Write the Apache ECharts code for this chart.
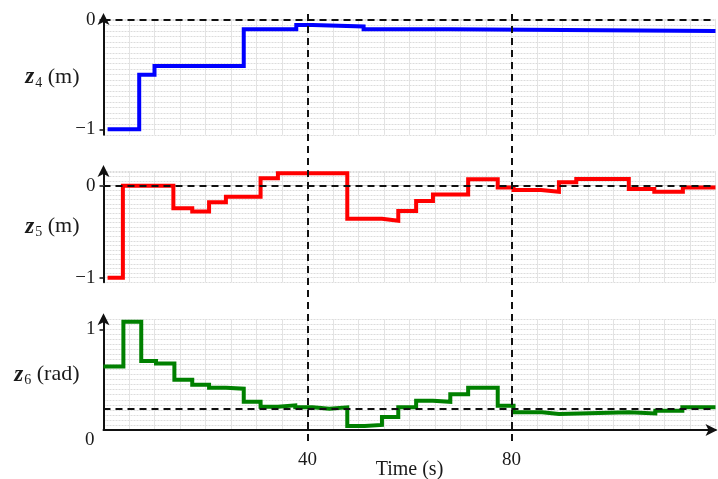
<!DOCTYPE html>
<html>
<head>
<meta charset="utf-8">
<style>
  html, body { margin: 0; padding: 0; background: #fff; }
  #chart { width: 718px; height: 479px; }
</style>
<script src="https://cdn.jsdelivr.net/npm/echarts@6/dist/echarts.min.js"></script>
</head>
<body>
<div id="chart"></div>
<script>
// Step responses of the three states over time (s)
const timeZ4 = [0.8, 7, 10, 27.5, 37.8, 41, 51, 68, 120];
const z4 = [-1, -0.50, -0.42, -0.085, -0.046, -0.06, -0.085, -0.10, -0.10];

const timeZ5 = [0.8, 3.8, 13.7, 17.4, 20.7, 24, 30.8, 34.2, 47.8, 54.6, 57.8, 61.3, 64.6, 71.5, 77.3, 80.4, 85.8, 89.3, 92.7, 103, 108, 113.6, 120];
const z5 = [-1, 0, -0.245, -0.28, -0.18, -0.12, 0.08, 0.135, -0.36, -0.38, -0.275, -0.165, -0.095, 0.07, -0.02, -0.047, -0.065, 0.037, 0.073, -0.036, -0.065, -0.02, -0.02];

const timeZ6 = [0, 3.9, 7.4, 10.3, 13.9, 17.4, 20.7, 24, 27.5, 30.8, 34.2, 37.6, 41, 44.3, 47.8, 51.2, 54.6, 57.8, 61.3, 64.6, 68, 71.5, 77.3, 80.4, 86, 89.3, 103, 108.2, 113.5, 120];
const z6 = [0.63, 1.075, 0.685, 0.66, 0.50, 0.45, 0.42, 0.41, 0.28, 0.23, 0.245, 0.225, 0.21, 0.225, 0.04, 0.05, 0.13, 0.225, 0.29, 0.28, 0.355, 0.42, 0.24, 0.175, 0.16, 0.175, 0.165, 0.19, 0.225, 0.225];

// Reference levels and marked instants
const refZ4 = 0;
const refZ5 = 0;
const refZ6 = 0.215;
const markTimes = [40, 80];

// Tick labels
const xTickValues = [40, 80];
const yTicksZ4 = [-1, 0];
const yTicksZ5 = [-1, 0];
const yTicksZ6 = [1];
const originTick = [0];

const FONT = 'Liberation Serif';
const TEXT = '#1a1a1a';
const X_MIN = 0, X_MAX = 120;

const panels = [
  { top: 18.9,  height: 115.9, min: -1.05, max: 0.01, color: '#0000ff', time: timeZ4, vals: z4, ref: refZ4, ticks: yTicksZ4, sub: '4', unit: ' (m)' },
  { top: 171,   height: 111.3, min: -1.05, max: 0.16, color: '#ff0000', time: timeZ5, vals: z5, ref: refZ5, ticks: yTicksZ5, sub: '5', unit: ' (m)' },
  { top: 319.2, height: 110.8, min: 0,     max: 1.1,  color: '#008000', time: timeZ6, vals: z6, ref: refZ6, ticks: yTicksZ6, sub: '6', unit: ' (rad)' }
];

const LEFT = 103.5, RIGHT = 2.5;
const dashed = { color: '#111', width: 2, type: [7, 5] };

function fmtNum(v) {
  const r = Math.round(v * 1000) / 1000;
  return r < 0 ? '\u2212' + Math.abs(r) : String(r);
}

const nameRich = {
  z: { fontFamily: FONT, fontSize: 23, fontStyle: 'italic', fontWeight: 'bold', color: TEXT, lineHeight: 26, verticalAlign: 'middle' },
  s: { fontFamily: FONT, fontSize: 14, color: TEXT, lineHeight: 26, verticalAlign: 'bottom', padding: [0, 0, 0, 1] },
  u: { fontFamily: FONT, fontSize: 22, color: TEXT, lineHeight: 26, verticalAlign: 'middle' }
};

const grid = [], xAxis = [], yAxis = [], series = [];

panels.forEach((p, i) => {
  const last = i === panels.length - 1;
  grid.push({ left: LEFT, right: RIGHT, top: p.top, height: p.height, outerBoundsMode: 'none', containLabel: false });

  xAxis.push({
    type: 'value', gridIndex: i, min: X_MIN, max: X_MAX, interval: 5,
    axisLine: last
      ? { show: true, lineStyle: { color: '#111', width: 2 }, symbol: ['none', 'arrow'], symbolSize: [9, 12], symbolOffset: [0, 2] }
      : { show: i === 1, lineStyle: { color: '#cfcfcf', width: 1 } },
    axisTick: { show: false },
    axisLabel: last
      ? { show: true, customValues: xTickValues, fontFamily: FONT, fontSize: 19, color: TEXT, margin: 21 }
      : { show: false },
    splitLine: { show: true, lineStyle: { color: '#e3e3e3', width: 1 } },
    name: last ? 'Time (s)' : '',
    nameLocation: 'middle', nameGap: 30, nameMoveOverlap: false,
    nameTextStyle: { fontFamily: FONT, fontSize: 20, color: TEXT }
  });

  // dense background grid
  yAxis.push({
    type: 'value', gridIndex: i, min: p.min, max: p.max, interval: 0.05,
    axisLine: { show: false }, axisTick: { show: false }, axisLabel: { show: false },
    splitLine: { show: true, lineStyle: { color: '#dcdcdc', width: 1, type: [2, 1] } }
  });
  const gridAxisIndex = yAxis.length - 1;

  // labelled axis with arrow
  yAxis.push({
    type: 'value', gridIndex: i, min: p.min, max: p.max, position: 'left',
    axisLine: { show: true, onZero: false, lineStyle: { color: '#111', width: 2 }, symbol: ['none', 'arrow'], symbolSize: [9, 12], symbolOffset: [0, 6] },
    axisTick: { show: true, customValues: p.ticks, length: 4, lineStyle: { color: '#111', width: 1.5 } },
    axisLabel: {
      show: true, customValues: p.ticks, margin: 8,
      fontFamily: FONT, fontSize: 19, color: TEXT,
      formatter: v => fmtNum(v)
    },
    splitLine: { show: false },
    name: '{z|z}{s|' + p.sub + '}{u|' + p.unit + '}',
    nameLocation: 'middle', nameRotate: 0, nameGap: 24, nameMoveOverlap: false,
    nameTextStyle: { rich: nameRich }
  });

  // origin label sits below the time axis
  if (last) {
    yAxis.push({
      type: 'value', gridIndex: i, min: p.min, max: p.max, position: 'left',
      axisLine: { show: false }, axisTick: { show: false }, splitLine: { show: false },
      axisLabel: {
        show: true, customValues: originTick, margin: 9, verticalAlign: 'top', padding: [1, 0, 0, 0],
        fontFamily: FONT, fontSize: 19, color: TEXT, formatter: v => fmtNum(v)
      }
    });
  }

  series.push({
    type: 'line', xAxisIndex: i, yAxisIndex: gridAxisIndex,
    step: 'end', showSymbol: false, symbol: 'none', animation: false,
    lineStyle: { color: p.color, width: 4, cap: 'butt', join: 'miter' },
    data: p.time.map((t, k) => [t, p.vals[k]]),
    z: 3,
    markLine: {
      silent: true, symbol: 'none', label: { show: false },
      lineStyle: dashed,
      data: [{ yAxis: p.ref }]
    }
  });
});

// overlay spanning all panels for the vertical markers
grid.push({ left: LEFT, right: RIGHT, top: 12, bottom: 38, outerBoundsMode: 'none', containLabel: false });
xAxis.push({ type: 'value', gridIndex: 3, min: X_MIN, max: X_MAX, show: false });
yAxis.push({ type: 'value', gridIndex: 3, min: 0, max: 1, show: false });
series.push({
  type: 'line', xAxisIndex: 3, yAxisIndex: yAxis.length - 1, data: [], z: 5,
  markLine: {
    silent: true, symbol: 'none', label: { show: false },
    lineStyle: dashed,
    data: markTimes.map(t => ({ xAxis: t }))
  }
});

const chart = echarts.init(document.getElementById('chart'), null, { renderer: 'canvas' });
chart.setOption({
  animation: false,
  backgroundColor: '#ffffff',
  textStyle: { fontFamily: FONT },
  grid, xAxis, yAxis, series
});
</script>
</body>
</html>
